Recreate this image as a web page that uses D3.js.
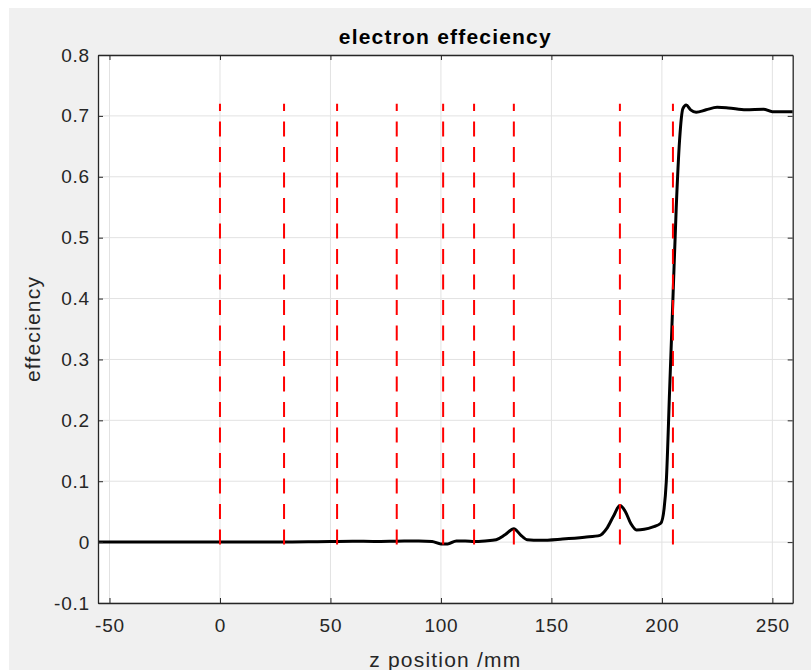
<!DOCTYPE html>
<html>
<head>
<meta charset="utf-8">
<script src="https://cdn.jsdelivr.net/npm/d3@7"></script>
<style>
  html, body { margin: 0; padding: 0; background: #ffffff; }
  svg { display: block; }
  text { font-family: "Liberation Sans", Arial, Helvetica, sans-serif; }
</style>
</head>
<body>
<svg id="chart" width="811" height="670"></svg>
<script>
// Efficiency curve along z (mm)
const zPos = [-55.2, -40, -20, 0, 20, 40, 50, 60, 70, 80, 90, 96, 100, 103, 107, 111, 115, 120, 125, 129,
  133, 136, 139, 145, 155, 165, 172, 175, 178, 181, 183.5, 186, 188.5, 192, 196, 199.5, 201, 202,
  203.5, 205, 206.5, 208, 209.5, 211, 213, 215.5, 220, 225, 230, 238, 246, 250, 255, 259.2];
const efficiency = [0, 0, 0, 0, 0, 0.0005, 0.001, 0.0015, 0.001, 0.0015, 0.002, 0.001, -0.003, -0.003, 0.002, 0.002, 0.001, 0.002, 0.004, 0.012,
  0.022, 0.012, 0.004, 0.003, 0.005, 0.008, 0.011, 0.022, 0.042, 0.060, 0.050, 0.030, 0.020, 0.021, 0.025, 0.031, 0.055, 0.10,
  0.25, 0.40, 0.55, 0.66, 0.712, 0.718, 0.710, 0.706, 0.710, 0.714, 0.713, 0.710, 0.711, 0.707, 0.707, 0.707];

// Positions of the dashed marker lines
const markerZ = [0, 29, 53, 80, 101, 115, 133, 181, 205];
const markerSpan = [-0.004, 0.72];

const xTicks = [-50, 0, 50, 100, 150, 200, 250];
const yTicks = [-0.1, 0, 0.1, 0.2, 0.3, 0.4, 0.5, 0.6, 0.7, 0.8];

const titleText = "electron effeciency";
const xLabelText = "z position /mm";
const yLabelText = "effeciency";

const svg = d3.select("#chart");

// figure background
svg.append("rect").attr("x", 9).attr("y", 8).attr("width", 802).attr("height", 662).attr("fill", "#f0f0f0");

const plotLeft = 98, plotRight = 792.7, plotTop = 55, plotBottom = 603;
const x = d3.scaleLinear().domain([-55.2, 259.2]).range([plotLeft, plotRight]);
const y = d3.scaleLinear().domain([-0.1, 0.8]).range([plotBottom, plotTop]);

// axes area
svg.append("rect").attr("x", plotLeft).attr("y", plotTop)
  .attr("width", plotRight - plotLeft).attr("height", plotBottom - plotTop).attr("fill", "#ffffff");

// grid
const grid = svg.append("g").attr("stroke", "#e2e2e2").attr("stroke-width", 1);
grid.selectAll("line.gx").data(xTicks).join("line").attr("class", "gx")
  .attr("x1", d => x(d)).attr("x2", d => x(d)).attr("y1", plotTop).attr("y2", plotBottom);
grid.selectAll("line.gy").data(yTicks).join("line").attr("class", "gy")
  .attr("x1", plotLeft).attr("x2", plotRight).attr("y1", d => y(d)).attr("y2", d => y(d));

// data curve
const line = d3.line().x(d => x(d[0])).y(d => y(d[1])).curve(d3.curveMonotoneX);
svg.append("path")
  .datum(zPos.map((z, i) => [z, efficiency[i]]))
  .attr("d", line)
  .attr("fill", "none")
  .attr("stroke", "#000000")
  .attr("stroke-width", 3)
  .attr("stroke-linejoin", "round");

// dashed markers
svg.append("g").selectAll("line").data(markerZ).join("line")
  .attr("x1", d => x(d)).attr("x2", d => x(d))
  .attr("y1", y(markerSpan[0])).attr("y2", y(markerSpan[1]))
  .attr("stroke", "#ff0000")
  .attr("stroke-width", 2)
  .attr("stroke-dasharray", "15,10.5");

// axes with inward ticks; plain hyphen for negatives
const fmt = d => {
  if (d === 0) return "0";
  const s = Math.abs(d) < 1 ? d3.format(".1f")(Math.abs(d)) : String(Math.abs(d));
  return (d < 0 ? "-" : "") + s;
};
const tickLen = 5;
const axBottom = d3.axisBottom(x).tickValues(xTicks).tickSizeInner(-tickLen).tickSizeOuter(0).tickPadding(16).tickFormat(fmt);
const axTop = d3.axisTop(x).tickValues(xTicks).tickSizeInner(-tickLen).tickSizeOuter(0).tickFormat("");
const axLeft = d3.axisLeft(y).tickValues(yTicks).tickSizeInner(-tickLen).tickSizeOuter(0).tickPadding(8).tickFormat(fmt);
const axRight = d3.axisRight(y).tickValues(yTicks).tickSizeInner(-tickLen).tickSizeOuter(0).tickFormat("");

function styleAxis(g) {
  g.select(".domain").attr("stroke", "#262626").attr("stroke-width", 1.3);
  g.selectAll(".tick line").attr("stroke", "#262626").attr("stroke-width", 1);
  g.selectAll(".tick text").attr("fill", "#262626")
    .style("font-size", "19px").style("letter-spacing", "0.8px")
    .style("font-family", "'Liberation Sans', Arial, sans-serif");
}
svg.append("g").attr("transform", `translate(0,${plotBottom})`).call(axBottom).call(styleAxis);
svg.append("g").attr("transform", `translate(0,${plotTop})`).call(axTop).call(styleAxis);
svg.append("g").attr("transform", `translate(${plotLeft},0)`).call(axLeft).call(styleAxis);
svg.append("g").attr("transform", `translate(${plotRight},0)`).call(axRight).call(styleAxis);

// title and axis labels
svg.append("text").attr("x", (plotLeft + plotRight) / 2).attr("y", 44)
  .attr("text-anchor", "middle").attr("font-weight", "bold")
  .style("font-size", "21px").style("letter-spacing", "1.2px").attr("fill", "#000")
  .text(titleText);
svg.append("text").attr("x", (plotLeft + plotRight) / 2).attr("y", 667)
  .attr("text-anchor", "middle")
  .style("font-size", "21px").style("letter-spacing", "1.2px").attr("fill", "#262626")
  .text(xLabelText);
svg.append("text").attr("transform", `translate(40,${(plotTop + plotBottom) / 2}) rotate(-90)`)
  .attr("text-anchor", "middle")
  .style("font-size", "21px").style("letter-spacing", "1.2px").attr("fill", "#262626")
  .text(yLabelText);
</script>
</body>
</html>
